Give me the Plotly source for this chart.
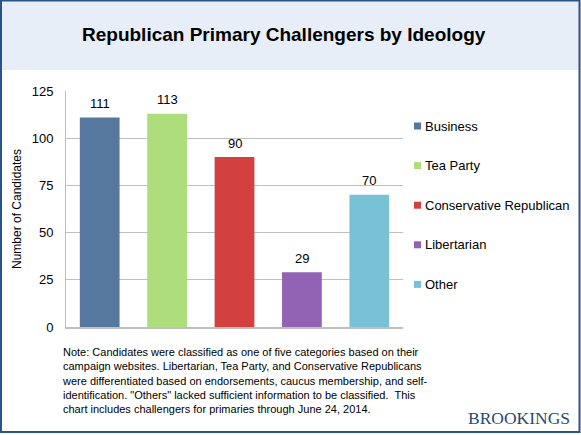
import plotly.graph_objects as go

categories = ["Business", "Tea Party", "Conservative Republican", "Libertarian", "Other"]
values = [111, 113, 90, 29, 70]
colors = ["#56789F", "#AEDD7B", "#D24040", "#9262B4", "#79C1D5"]
y_ticks = [0, 25, 50, 75, 100, 125]

title_text = "Republican Primary Challengers by Ideology"
y_title = "Number of Candidates"
note_text = ("Note: Candidates were classified as one of five categories based on their<br>"
             "campaign websites. Libertarian, Tea Party, and Conservative Republicans<br>"
             "were differentiated based on endorsements, caucus membership, and self-<br>"
             "identification. \"Others\" lacked sufficient information to be classified.  This<br>"
             "chart includes challengers for primaries through June 24, 2014.")
brand = "BROOKINGS"

W, H = 581, 435
L, R, T, B = 66, 403, 91, 327
pw, ph = R - L, B - T

def px(x):
    return (x - L) / pw

def py(y):
    return (B - y) / ph

FONT = "Liberation Sans, Arial"

fig = go.Figure()
for c, v, col in zip(categories, values, colors):
    fig.add_trace(go.Bar(
        x=[c], y=[v], name=c, marker=dict(color=col, line=dict(width=0)),
        showlegend=False, width=0.59, hoverinfo="skip",
    ))
    fig.add_annotation(x=c, y=v, xref="x", yref="y", text=str(v), showarrow=False,
                       yanchor="middle", yshift=14,
                       font=dict(family=FONT, size=13, color="#000000"))

fig.update_layout(
    width=W, height=H,
    margin=dict(l=L, r=W - R, t=T, b=H - B, autoexpand=False),
    paper_bgcolor="white", plot_bgcolor="white",
    font=dict(family=FONT, size=13, color="#000000"),
    showlegend=False,
    xaxis=dict(categoryorder="array", categoryarray=categories, showticklabels=False,
               showline=True, linecolor="#BFBFBF", linewidth=2, ticks="",
               range=[-0.5, 4.5], showgrid=False, zeroline=False),
    yaxis=dict(range=[0, 125], tickvals=y_ticks, showline=True, linecolor="#BFBFBF",
               linewidth=1, gridcolor="#BFBFBF", gridwidth=1, zeroline=False,
               ticks="", ticklabelstandoff=9,
               tickfont=dict(family=FONT, size=13, color="#000000"),
               title=dict(text=y_title, font=dict(family=FONT, size=12, color="#000000"),
                          standoff=7)),
)

shapes = [
    dict(type="rect", xref="paper", yref="paper", x0=px(0), x1=px(W), y0=py(70), y1=py(0),
         fillcolor="#E8EEF8", line=dict(width=0), layer="below"),
    dict(type="rect", xref="paper", yref="paper", x0=px(1), x1=px(579.5), y0=py(432), y1=py(0.5),
         fillcolor="rgba(0,0,0,0)", line=dict(color="#2A5485", width=2), layer="above"),
]

# legend: small squares with labels, stacked from the categories / colors arrays
leg_top = 126
leg_step = 39.6
for i, (c, col) in enumerate(zip(categories, colors)):
    yc = leg_top + i * leg_step
    shapes.append(dict(type="rect", xref="paper", yref="paper",
                       x0=px(414), x1=px(421), y0=py(yc + 3.5), y1=py(yc - 3.5),
                       fillcolor=col, line=dict(width=0)))
    fig.add_annotation(text=c, xref="paper", yref="paper", x=px(423), y=py(yc),
                       xanchor="left", yanchor="middle", showarrow=False,
                       font=dict(family=FONT, size=13, color="#000000"))

fig.update_layout(shapes=shapes)

fig.add_annotation(text="<b>" + title_text + "</b>", xref="paper", yref="paper",
                   x=px(284), y=py(35), xanchor="center", yanchor="middle", showarrow=False,
                   font=dict(family=FONT, size=19, color="#000000"))
fig.add_annotation(text=note_text, xref="paper", yref="paper", align="left",
                   x=px(60), y=py(344), xanchor="left", yanchor="top", showarrow=False,
                   font=dict(family=FONT, size=11, color="#000000"))
fig.add_annotation(text=brand, xref="paper", yref="paper",
                   x=px(572), y=py(418), xanchor="right", yanchor="middle", showarrow=False,
                   font=dict(family="Liberation Serif, Times New Roman", size=17.5, color="#2B4A70"))

fig.write_html("out.html", config={"displayModeBar": False},
               post_script="document.body.style.margin='0';document.body.style.overflow='hidden';")
